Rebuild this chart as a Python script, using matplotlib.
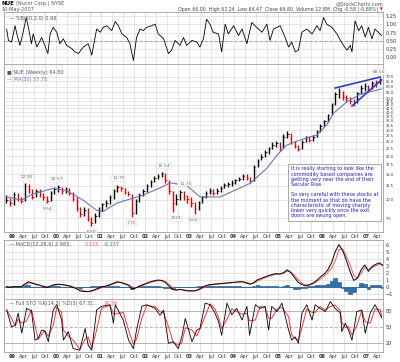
import numpy as np
import pandas as pd
import matplotlib
matplotlib.use("Agg")
import matplotlib.pyplot as plt

# monthly bars Nov 1998 .. May 2007
close = [10.0, 9.5,
         11.0, 10.2, 9.8, 12.5, 11.8, 10.5, 11.5, 11.0, 10.4, 9.9, 11.2, 11.8,
         12.2, 11.6, 11.8, 11.2, 10.2, 8.8, 8.0, 8.6, 7.4, 6.9, 7.8, 8.6,
         9.4, 9.6, 10.4, 11.6, 12.2, 12.0, 11.4, 11.0, 8.2, 9.8, 10.8, 11.6,
         12.4, 13.3, 14.2, 14.6, 15.2, 13.6, 11.6, 9.6, 10.2, 11.4, 10.6, 10.2,
         9.6, 8.8, 9.6, 10.4, 11.2, 11.6, 11.2, 11.6, 12.0, 12.6, 12.8, 13.0,
         13.6, 14.0, 14.6, 14.2, 13.4, 16.8, 18.6, 19.6, 21.4, 22.6, 24.0, 24.6,
         22.8, 27.0, 28.2, 25.0, 23.4, 22.4, 25.0, 27.0, 25.6, 27.2, 29.6, 32.4,
         34.8, 38.4, 45.0, 53.0, 55.4, 51.0, 50.0, 47.6, 46.6, 54.0, 58.8, 60.6,
         58.0, 63.8, 63.0, 67.2, 64.8]
high = [10.8, 10.3,
        11.3, 11.2, 10.5, 13.0, 12.95, 11.9, 11.9, 11.8, 11.2, 10.6, 11.5, 12.2,
        12.57, 12.2, 12.2, 12.0, 11.4, 10.4, 9.0, 9.0, 8.8, 7.6, 8.2, 8.9,
        9.6, 10.0, 10.8, 11.9, 12.75, 12.5, 12.1, 11.6, 11.0, 10.2, 11.1, 11.9,
        12.8, 13.6, 14.5, 15.0, 15.54, 15.2, 13.6, 11.6, 11.0, 11.75, 11.6, 10.8,
        10.4, 9.7, 9.9, 10.7, 11.5, 12.0, 11.8, 12.0, 12.4, 13.0, 13.2, 13.6,
        14.0, 14.4, 15.0, 15.0, 14.4, 17.4, 19.2, 20.8, 22.0, 23.2, 25.0, 25.4,
        25.0, 28.2, 29.6, 28.6, 25.4, 24.0, 25.6, 27.6, 27.4, 27.8, 30.0, 33.0,
        35.6, 39.0, 46.0, 54.6, 58.4, 56.0, 52.6, 51.0, 49.0, 55.4, 61.0, 63.6,
        61.4, 65.6, 66.0, 68.5, 67.24]
low = [9.6, 9.1,
       9.3, 9.8, 9.5, 9.8, 11.2, 10.1, 10.4, 10.5, 10.0, 9.54, 9.9, 11.0,
       11.4, 11.0, 11.2, 10.8, 9.8, 8.4, 7.6, 7.8, 7.2, 6.6, 6.9, 7.6,
       8.4, 9.0, 9.4, 10.2, 11.4, 11.5, 11.0, 10.6, 7.7, 8.0, 9.7, 10.6,
       11.4, 12.3, 13.2, 13.9, 14.4, 13.1, 11.0, 8.24, 9.3, 10.0, 10.0, 9.6,
       9.0, 8.02, 8.6, 9.5, 10.3, 11.0, 10.8, 11.0, 11.4, 12.0, 12.3, 12.5,
       12.8, 13.4, 13.8, 13.6, 13.0, 13.4, 16.8, 18.8, 19.6, 20.8, 22.4, 23.2,
       21.6, 22.6, 26.8, 24.2, 22.8, 21.6, 22.2, 24.8, 25.0, 25.2, 27.0, 29.4,
       32.2, 34.2, 38.0, 44.8, 50.0, 48.8, 46.8, 45.6, 44.2, 46.6, 53.6, 56.0,
       54.6, 57.6, 59.6, 62.4, 64.47]

# MACD(12,26,9) and signal, same monthly grid
macd = [0.0, -0.1,
        0.0, 0.0, 0.0, 0.4, 0.7, 0.5, 0.3, 0.2, 0.0, -0.1, 0.1, 0.3,
        0.35, 0.3, 0.2, 0.1, -0.1, -0.3, -0.6, -0.7, -0.7, -0.6, -0.4, -0.2,
        0.0, 0.1, 0.3, 0.5, 0.7, 0.6, 0.4, 0.2, -0.3, -0.2, 0.1, 0.3,
        0.5, 0.7, 0.85, 0.95, 0.9, 0.6, 0.1, -0.4, -0.5, -0.4, -0.5, -0.6,
        -0.6, -0.6, -0.4, -0.1, 0.15, 0.3, 0.35, 0.4, 0.45, 0.5, 0.55, 0.6,
        0.65, 0.7, 0.7, 0.5, 0.35, 0.6, 1.0, 1.2, 1.4, 1.6, 1.75, 1.85,
        1.8, 2.0, 2.4, 2.0, 1.3, 0.6, 0.3, 0.1, 0.3, 0.5, 0.9, 1.4,
        1.8, 2.4, 3.4, 5.0, 6.0, 5.2, 3.8, 2.2, 0.9, 1.2, 2.4, 3.1,
        2.2, 2.9, 3.2, 3.4, 2.98]
signal = [0.0, 0.0,
          0.0, 0.0, 0.0, 0.2, 0.5, 0.55, 0.4, 0.25, 0.1, 0.0, 0.05, 0.2,
          0.3, 0.3, 0.25, 0.15, 0.0, -0.2, -0.4, -0.6, -0.7, -0.65, -0.5, -0.3,
          -0.1, 0.05, 0.2, 0.4, 0.6, 0.6, 0.5, 0.3, 0.0, -0.15, 0.0, 0.2,
          0.4, 0.6, 0.75, 0.85, 0.9, 0.75, 0.35, -0.1, -0.4, -0.4, -0.45, -0.55,
          -0.6, -0.6, -0.5, -0.25, 0.0, 0.2, 0.3, 0.35, 0.4, 0.45, 0.5, 0.55,
          0.6, 0.65, 0.7, 0.6, 0.45, 0.5, 0.8, 1.05, 1.25, 1.45, 1.65, 1.8,
          1.8, 1.9, 2.2, 2.1, 1.6, 1.0, 0.5, 0.25, 0.2, 0.4, 0.7, 1.1,
          1.5, 2.0, 2.6, 3.7, 5.3, 5.4, 4.4, 3.2, 1.6, 1.2, 1.9, 2.7,
          2.5, 2.7, 3.0, 3.2, 3.12]

# 30 week moving average (decimal year, value)
ma_t = [1998.88, 1999.22, 1999.47, 1999.93, 2000.23, 2000.6, 2000.91, 2001.05,
        2001.36, 2001.73, 2001.96, 2002.34, 2002.57, 2002.94, 2003.24, 2003.7,
        2004.37, 2004.75, 2004.98, 2005.2, 2005.5, 2005.88, 2006.1, 2006.25,
        2006.56, 2006.86, 2007.34]
ma_v = [10.5, 10.0, 11.0, 12.0, 11.6, 10.0, 8.5, 8.3,
        9.5, 10.3, 10.8, 12.1, 13.1, 12.6, 10.5, 10.5,
        13.0, 16.5, 20.3, 23.8, 25.8, 27.9, 32.7, 39.3,
        47.2, 53.1, 57.75]

# %B (top panel)
pb_t = [1998.88, 1998.92, 1998.99, 1999.07, 1999.11, 1999.18, 1999.26, 1999.32,
        1999.37, 1999.44, 1999.48, 1999.56, 1999.67, 1999.74, 1999.81, 1999.86,
        1999.93, 2000.01, 2000.08, 2000.16, 2000.23, 2000.35, 2000.42, 2000.5,
        2000.61, 2000.72, 2000.8, 2000.91, 2000.99, 2001.06, 2001.14, 2001.25,
        2001.33, 2001.4, 2001.48, 2001.59, 2001.66, 2001.74, 2001.81, 2001.89,
        2001.96, 2002.04, 2002.15, 2002.23, 2002.3, 2002.42, 2002.53, 2002.6,
        2002.68, 2002.79, 2002.87, 2002.94, 2003.06, 2003.17, 2003.24, 2003.32,
        2003.39, 2003.47, 2003.54, 2003.66, 2003.73, 2003.81, 2003.88, 2004.0,
        2004.11, 2004.19, 2004.3, 2004.41, 2004.52, 2004.64, 2004.75, 2004.82,
        2004.9, 2005.05, 2005.16, 2005.24, 2005.31, 2005.39, 2005.46, 2005.54,
        2005.65, 2005.77, 2005.88, 2005.95, 2006.03, 2006.1, 2006.22, 2006.33,
        2006.41, 2006.48, 2006.56, 2006.63, 2006.67, 2006.74, 2006.82, 2006.89,
        2006.97, 2007.04, 2007.12, 2007.19, 2007.34]
pb_v = [0.86, 0.51, 0.46, 0.96, 0.71, 0.36, 0.81, 1.21,
        0.91, 0.41, 0.71, 0.31, 0.60, 0.36, 0.11, 0.71,
        0.91, 0.76, 0.41, 0.56, 0.36, 0.26, 0.16, 0.11,
        0.31, 0.41, 0.06, 0.86, 0.76, 0.91, 0.96, 0.81,
        1.09, 0.96, 0.71, 0.60, 0.41, -0.10, 0.60, 0.86,
        0.81, 0.91, 0.96, 1.01, 0.71, 0.56, 0.11, 0.21,
        0.51, 0.36, 0.60, 0.36, 0.51, 0.46, 0.31, 0.56,
        1.16, 1.00, 0.76, 0.71, 0.16, 1.01, 0.71, 0.96,
        0.66, 0.86, 0.41, 1.06, 0.91, 0.76, 1.01, 0.51,
        0.86, 0.96, 0.61, 0.31, 0.46, 0.16, 0.21, 0.76,
        0.86, 0.71, 0.96, 0.81, 1.21, 1.01, 0.91, 0.71,
        0.51, 0.36, 0.21, 0.36, 0.16, 1.11, 0.81, 0.96,
        0.61, 0.91, 0.56, 0.86, 0.66]

# Full stochastic %K
sto_t = [1998.88, 1998.99, 1999.07, 1999.14, 1999.22, 1999.33, 1999.44, 1999.52,
         1999.59, 1999.67, 1999.74, 1999.82, 1999.93, 2000.01, 2000.12, 2000.16,
         2000.27, 2000.38, 2000.53, 2000.65, 2000.72, 2000.8, 2000.91, 2001.02,
         2001.21, 2001.29, 2001.33, 2001.51, 2001.63, 2001.74, 2001.81, 2001.93,
         2002.04, 2002.23, 2002.34, 2002.42, 2002.53, 2002.64, 2002.75, 2002.83,
         2002.91, 2003.06, 2003.17, 2003.24, 2003.36, 2003.47, 2003.58, 2003.66,
         2003.73, 2003.85, 2003.96, 2004.07, 2004.19, 2004.3, 2004.36, 2004.49,
         2004.6, 2004.71, 2004.79, 2004.86, 2004.98, 2005.09, 2005.24, 2005.31,
         2005.39, 2005.46, 2005.54, 2005.65, 2005.77, 2005.84, 2005.95, 2006.07,
         2006.18, 2006.29, 2006.41, 2006.44, 2006.52, 2006.59, 2006.67, 2006.78,
         2006.89, 2006.97, 2007.08, 2007.19, 2007.31, 2007.34]
sto_k = [82, 50, 53, 76, 38, 85, 80, 25,
         28, 44, 42, 22, 82, 92, 63, 25,
         41, 9, 6, 47, 15, 6, 82, 89,
         92, 57, 92, 63, 25, 9, 44, 89,
         92, 85, 72, 82, 19, 22, 9, 31,
         66, 22, 44, 47, 95, 92, 76, 60,
         34, 95, 73, 85, 63, 89, 34, 92,
         85, 89, 44, 89, 79, 95, 44, 25,
         31, 19, 76, 92, 63, 92, 85, 79,
         98, 85, 76, 41, 57, 44, 25, 79,
         82, 38, 76, 92, 73, 67.31]

# swing labels on the price panel
piv_t = [1999.33, 2000.01, 1999.81, 2001.4, 2000.8, 2001.7, 2002.42, 2002.91,
         2002.72, 2003.1, 2007.28]
piv_p = [12.95, 12.57, 9.54, 12.75, 6.60, 7.70, 15.54, 11.75, 8.24, 8.02, 68.50]
piv_up = [1, 1, 0, 1, 0, 0, 1, 1, 0, 0, 1]

# wedge trendlines
wedge_t = [[2006.29, 2007.31], [2006.67, 2007.33]]
wedge_p = [[58.6, 69.7], [44.1, 66.5]]

note = ("It is really starting to look like the\n"
        "commodity based companies are\n"
        "getting very near the end of their\n"
        "Secular Rise.\n\n"
        "So very careful with these stocks at\n"
        "the moment as that do have the\n"
        "characteristic of moving sharply\n"
        "lower very quickly once the exit\n"
        "doors are swung open.")

W, H = 400, 362
t0, t1 = 1998.82, 2007.37
grid_c = "#dcdcdc"
edge_c = "#a0a0a0"
fs = 3.6


def rect(x0, y0, x1, y1):
    return [x0 / W, 1 - y1 / H, (x1 - x0) / W, (y1 - y0) / H]


def style(ax):
    ax.set_xlim(t0, t1)
    for s in ax.spines.values():
        s.set_color(edge_c)
        s.set_linewidth(0.6)
    ax.yaxis.tick_right()
    ax.tick_params(axis="y", length=0, pad=2, labelsize=fs, labelcolor="#333333")
    ax.tick_params(axis="x", length=0, pad=1.5, labelsize=fs, labelcolor="#333333")
    qt = np.arange(1999.0, 2007.3, 0.25)
    ax.set_xticks(qt)
    ax.grid(True, color=grid_c, linewidth=0.5)
    ax.set_axisbelow(True)
    return qt


def date_labels(ax, qt):
    names = {0: None, 1: "Apr", 2: "Jul", 3: "Oct"}
    labs = []
    for q in qt:
        k = int(round((q % 1) * 4))
        labs.append("%02d" % (int(round(q)) % 100) if k == 0 else names[k])
    ax.set_xticklabels(labs)
    for lab, q in zip(ax.get_xticklabels(), qt):
        if int(round((q % 1) * 4)) == 0:
            lab.set_fontweight("bold")


fig = plt.figure(figsize=(W / 100, H / 100), dpi=100)

months = 1998 + 10 / 12 + (np.arange(len(close)) + 0.5) / 12
close = np.array(close)
prev = np.r_[close[0], close[:-1]]
colors = np.where(close < prev, "#dd0000", "#000000")

# ---- top panel %B
ax0 = fig.add_axes(rect(4, 12, 383, 64))
qt = style(ax0)
ax0.set_xticklabels([])
ax0.set_ylim(-0.21, 1.38)
ax0.set_yticks([0, 0.25, 0.5, 0.75, 1.0, 1.25])
ax0.set_yticklabels(["0.00", "0.25", "0.50", "0.75", "1.00", "1.25"])
ax0.axhline(0.5, color="#999999", lw=0.6, ls=(0, (4, 2)))
ax0.plot(pb_t, pb_v, color="black", lw=0.6)
ax0.text(0.012, 0.93, "\u2014 %B(20,2.0) 0.66", transform=ax0.transAxes,
         fontsize=fs, color="#555555", va="top")

# ---- price panel
ax1 = fig.add_axes(rect(4, 64, 383, 232))
qt = style(ax1)
ax1.set_yscale("log")
ax1.set_ylim(6.03, 85.6)
pt = [7.5, 10, 12.5, 15, 17.5, 20, 22.5, 25, 27.5, 30, 32.5, 35, 37.5, 40,
      42.5, 45, 47.5, 50, 55, 60, 65, 70]
ax1.set_yticks(pt)
ax1.set_yticklabels(["%.1f" % p for p in pt])
ax1.minorticks_off()
ax1.tick_params(axis="y", labelsize=2.6, pad=2)
ax1.vlines(months, low, high, colors=colors, lw=1.0)
ax1.hlines(close, months, months + 0.035, colors=colors, lw=0.6)
ax1.plot(ma_t, ma_v, color="#6f73b8", lw=0.8)
for wt, wp in zip(wedge_t, wedge_p):
    ax1.plot(wt, wp, color="#2a3ad8", lw=1.2)
for t, p, up in zip(piv_t, piv_p, piv_up):
    ax1.annotate("%.2f" % p, (t, p), xytext=(0, 3 if up else -3),
                 textcoords="offset points", ha="center",
                 va="bottom" if up else "top", fontsize=3.2, color="#666666",
                 bbox=dict(boxstyle="square,pad=0.15", fc="white", ec="#cccccc", lw=0.3))
date_labels(ax1, qt)
ax1.text(0.008, 0.965, "\u25a0 NUE (Weekly) 64.80", transform=ax1.transAxes,
         fontsize=fs, color="#555555", va="top")
ax1.text(0.008, 0.925, "\u2014 MA(30) 57.75", transform=ax1.transAxes,
         fontsize=fs, color="#6f73b8", va="top")
ax1.text(0.757, 0.39, note, transform=ax1.transAxes, fontsize=3.5,
         color="#1a1ad0", va="top", ha="left", linespacing=1.05,
         bbox=dict(boxstyle="square,pad=0.5", fc="white", ec="#999999", lw=0.6))

# ---- MACD panel
ax2 = fig.add_axes(rect(4, 240, 383, 299))
qt = style(ax2)
ax2.set_xticklabels([])
ax2.set_ylim(-1.76, 6.67)
ax2.set_yticks(range(-1, 7))
hist = np.array(macd) - np.array(signal)
ax2.fill_between(months, 0, hist, color="#2c72b0", lw=0.4, step="mid",
                 edgecolor="#1b4f80")
ax2.axhline(0, color="#2c72b0", lw=0.6)
ax2.plot(months, signal, color="#ff5555", lw=0.7)
ax2.plot(months, macd, color="black", lw=0.7)
ax2.text(0.012, 0.97, "\u2014 MACD(12,26,9) 2.983,", transform=ax2.transAxes,
         fontsize=fs, color="#555555", va="top")
ax2.text(0.212, 0.97, "3.123,", transform=ax2.transAxes,
         fontsize=fs, color="#ff5555", va="top")
ax2.text(0.262, 0.97, "-0.137", transform=ax2.transAxes,
         fontsize=fs, color="#2c72b0", va="top")

# ---- Full stochastics panel
ax3 = fig.add_axes(rect(4, 299, 383, 352))
qt = style(ax3)
ax3.set_ylim(2.5, 102.8)
ax3.set_yticks([20, 50, 80])
ax3.grid(False, axis="y")
ax3.axhline(80, color="#aaaaaa", lw=0.6)
ax3.axhline(20, color="#aaaaaa", lw=0.6)
ax3.axhline(50, color="#aaaaaa", lw=0.6, ls=(0, (4, 2)))
sto_d = pd.Series(sto_k).rolling(2, min_periods=1).mean()
ax3.plot(sto_t, sto_d, color="#ff3333", lw=0.7)
ax3.plot(sto_t, sto_k, color="black", lw=0.6)
date_labels(ax3, qt)
ax3.text(0.012, 0.97, "\u2014 Full STO %K(14,3) %D(3) 67.31,", transform=ax3.transAxes,
         fontsize=fs, color="#555555", va="top")
ax3.text(0.262, 0.97, "76.56", transform=ax3.transAxes,
         fontsize=fs, color="#ff5555", va="top")

# ---- header
fig.text(2 / W, 1 - 1 / H, "NUE", fontsize=4, fontweight="bold", va="top")
fig.text(16 / W, 1 - 1 / H, "(Nucor Corp.) NYSE", fontsize=3.6, color="#555555", va="top")
fig.text(2 / W, 1 - 7 / H, "10-May-2007", fontsize=3.6, color="#555555", va="top")
fig.text(383 / W, 1 - 1 / H, "@StockCharts.com", fontsize=3.6, color="#555555",
         va="top", ha="right")
fig.text(378 / W, 1 - 7 / H,
         "Open 66.00  High 67.24  Low 64.47  Close 64.80  Volume 12.8M  Chg -0.58 (-0.89%)",
         fontsize=3.4, color="#444444", va="top", ha="right")
fig.text(383 / W, 1 - 7.5 / H, "\u25bc", fontsize=2.6, color="#dd0000", va="top", ha="right")

fig.savefig("out.png", dpi=100)
